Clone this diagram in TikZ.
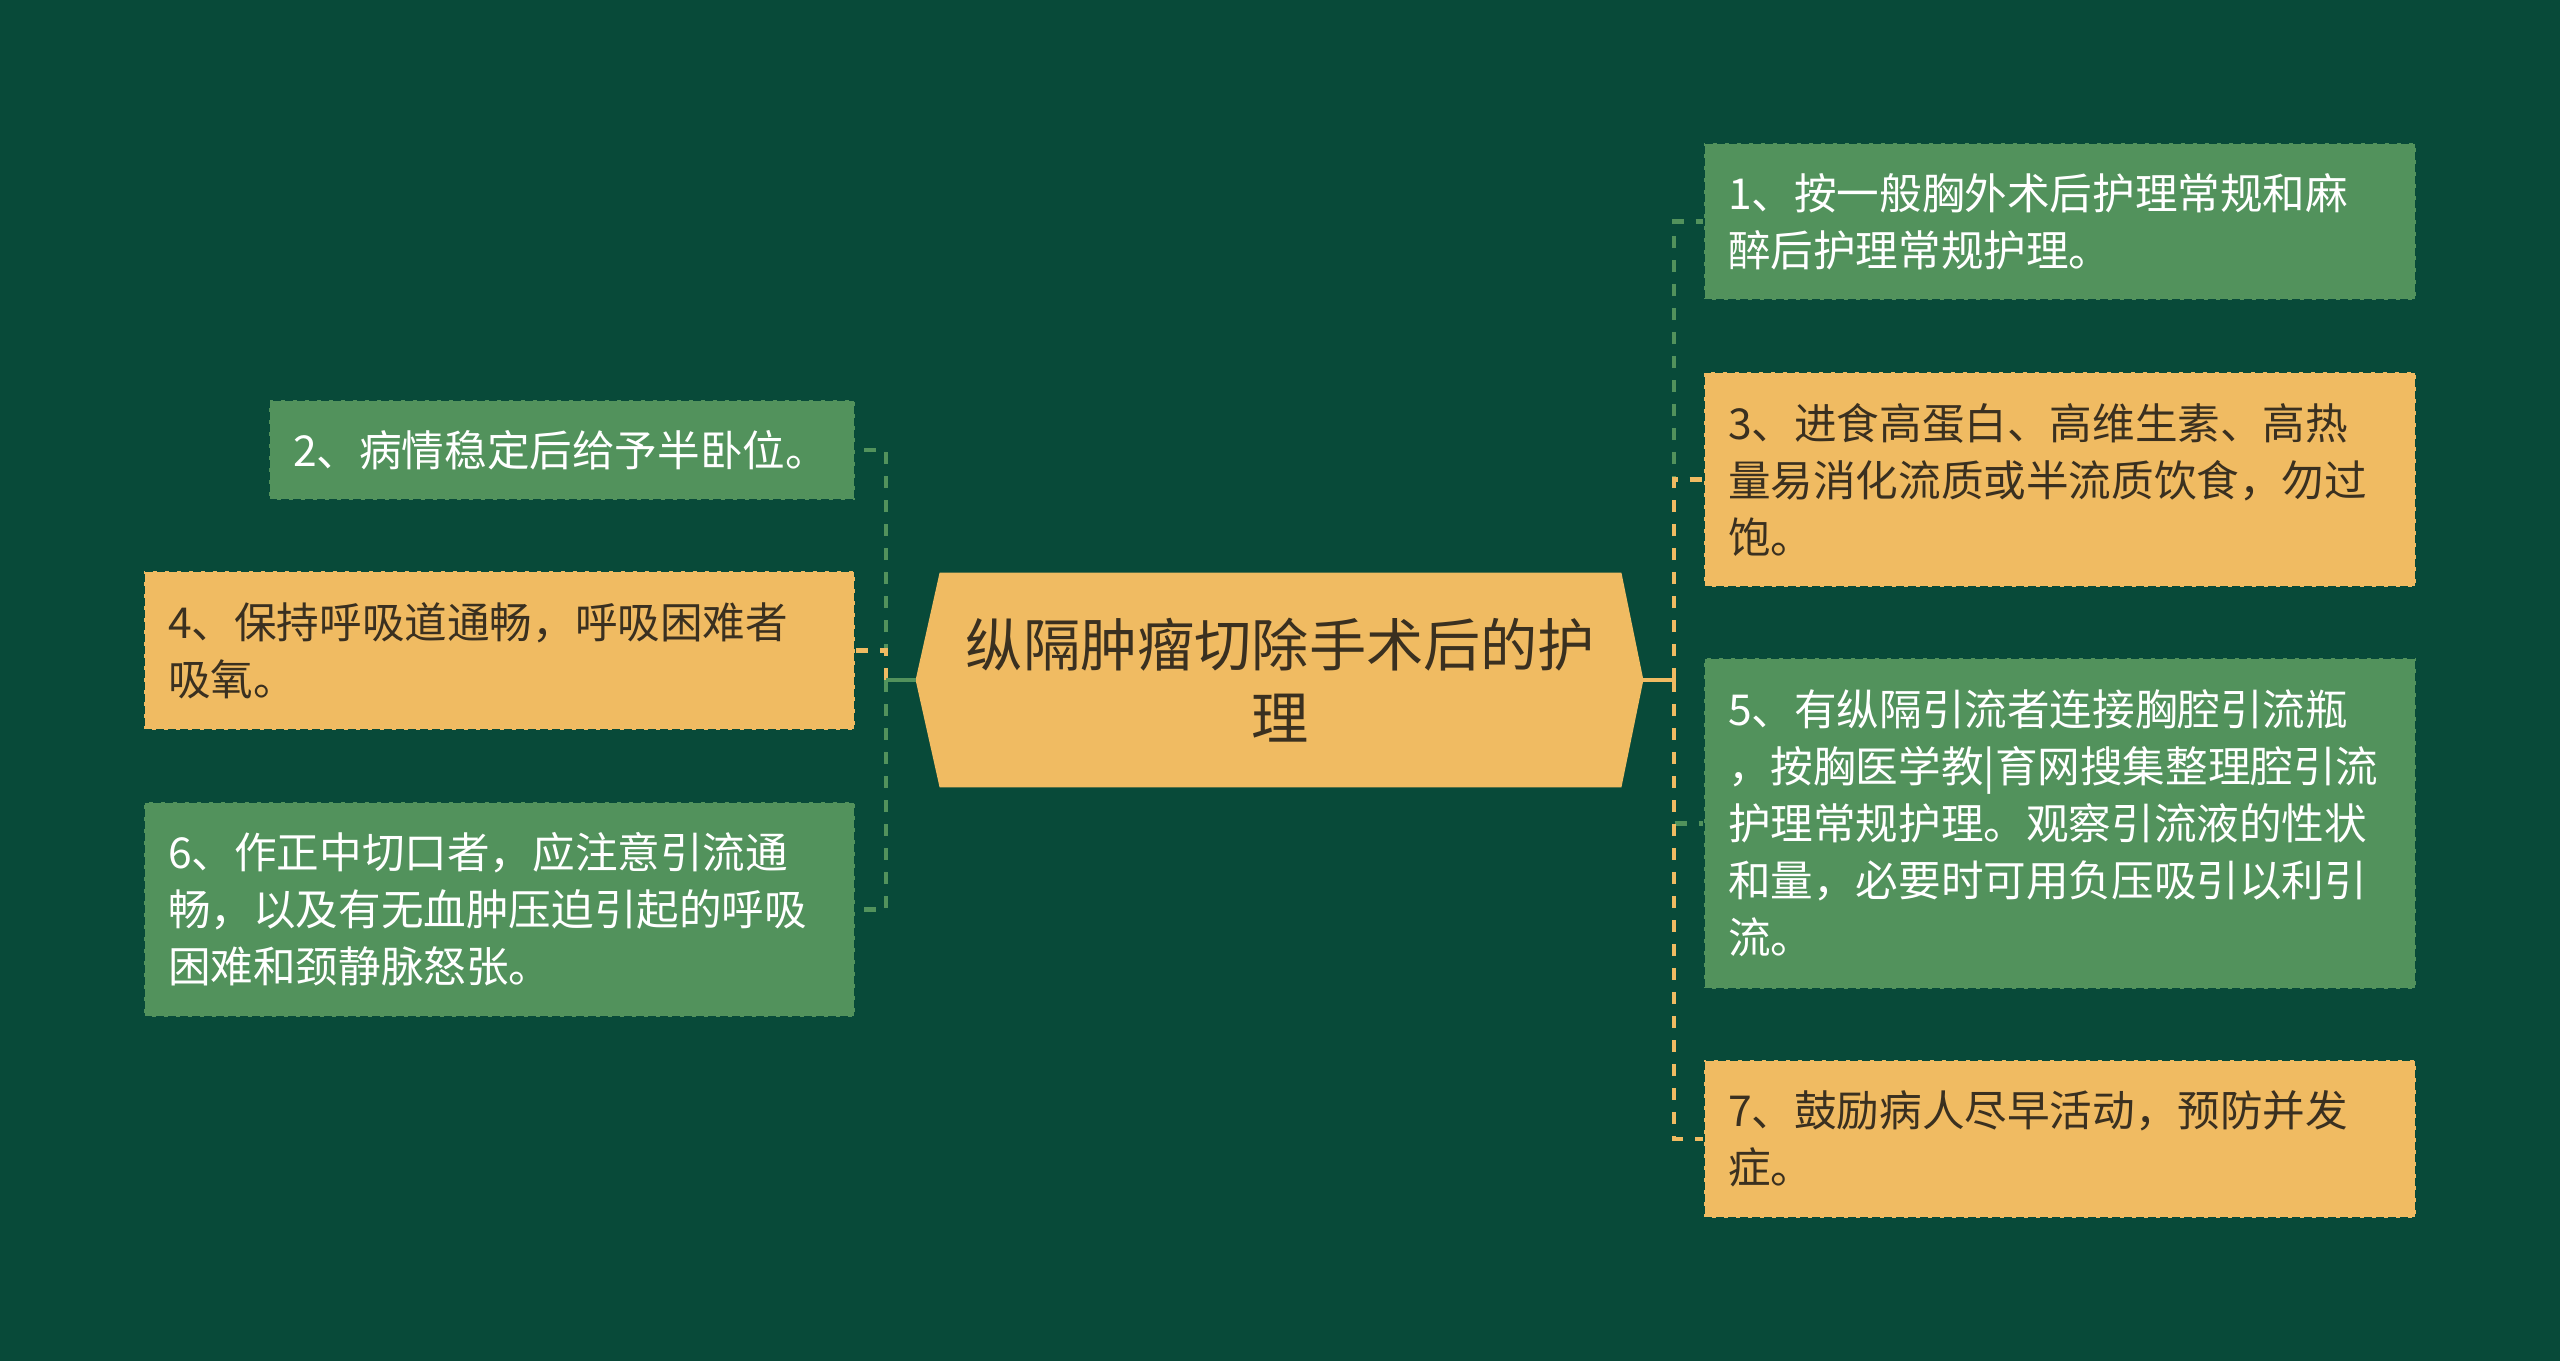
\documentclass[tikz,border=0pt]{standalone}
\usepackage{fontspec}
\setmainfont{Noto Sans CJK SC}
\usetikzlibrary{backgrounds}
\definecolor{bgc}{HTML}{084A39}
\definecolor{gbox}{HTML}{52925C}
\definecolor{ybox}{HTML}{F0BB62}
\definecolor{dtext}{HTML}{3A3020}
\begin{document}
\begin{tikzpicture}[x=0.5pt,y=-0.5pt,
  leaf/.style={rectangle, draw=bgc, line width=1pt, dash pattern=on 4pt off 2pt,
    text width=332pt, inner xsep=12pt, inner ysep=0pt, align=left,
    font=\fontsize{21.3pt}{28.5pt}\selectfont},
  gleaf/.style={leaf, fill=gbox, text=white},
  yleaf/.style={leaf, fill=ybox, text=dtext},
  conn/.style={line width=2.4pt, dash pattern=on 6pt off 6pt},
  gconn/.style={conn, draw=gbox},
  yconn/.style={conn, draw=ybox},
  stub/.style={line width=2.4pt}
]
\useasboundingbox (0,0) rectangle (2560,1361);
\node[font=\fontsize{28.6pt}{36.5pt}\selectfont, text=dtext, align=center,
  minimum width=340.5pt, minimum height=107pt, inner sep=0pt] (root) at (1280.5,680)
  {纵隔肿瘤切除手术后的护\\理};
\begin{scope}[on background layer]
\fill[bgc] (0,0) rectangle (2560,1361);
\fill[ybox] (root.north west) -- (root.north east) -- ([xshift=11pt]root.east)
  -- (root.south east) -- (root.south west) -- ([xshift=-12pt]root.west) -- cycle;
\end{scope}
\coordinate (rootR) at ([xshift=11pt]root.east);
\coordinate (rootL) at ([xshift=-12pt]root.west);
\coordinate (tr) at (1674,680);
\coordinate (tl) at (886,680);

\node[gleaf, minimum height=78.5pt] (n1) at (2060,221.5)
  {1、按一般胸外术后护理常规和麻\\醉后护理常规护理。};
\node[yleaf, minimum height=107.5pt] (n3) at (2060,479.5)
  {3、进食高蛋白、高维生素、高热\\量易消化流质或半流质饮食，勿过\\饱。};
\node[gleaf, minimum height=165.5pt] (n5) at (2060,823.5)
  {5、有纵隔引流者连接胸腔引流瓶\\，按胸医学教|育网搜集整理腔引流\\护理常规护理。观察引流液的性状\\和量，必要时可用负压吸引以利引\\流。};
\node[yleaf, minimum height=79pt] (n7) at (2060,1139)
  {7、鼓励病人尽早活动，预防并发\\症。};
\node[gleaf, text width=269pt, minimum height=50pt] (n2) at (562,450)
  {2、病情稳定后给予半卧位。};
\node[yleaf, text width=331.5pt, minimum height=79.5pt] (n4) at (499.5,650.5)
  {4、保持呼吸道通畅，呼吸困难者\\吸氧。};
\node[gleaf, text width=331.5pt, minimum height=107.5pt] (n6) at (499.5,909.5)
  {6、作正中切口者，应注意引流通\\畅，以及有无血肿压迫引起的呼吸\\困难和颈静脉怒张。};

\draw[gconn] (tr) |- (n1.west);
\draw[yconn] (tr) |- (n3.west);
\draw[gconn] (tr) |- (n5.west);
\draw[yconn] (tr) |- (n7.west);
\draw[stub, ybox] (rootR) -- (tr);

\draw[gconn] (tl) |- (n2.east);
\draw[yconn] (tl) |- (n4.east);
\draw[gconn] (tl) |- (n6.east);
\draw[stub, gbox] (rootL) -- (tl);
\end{tikzpicture}
\end{document}
